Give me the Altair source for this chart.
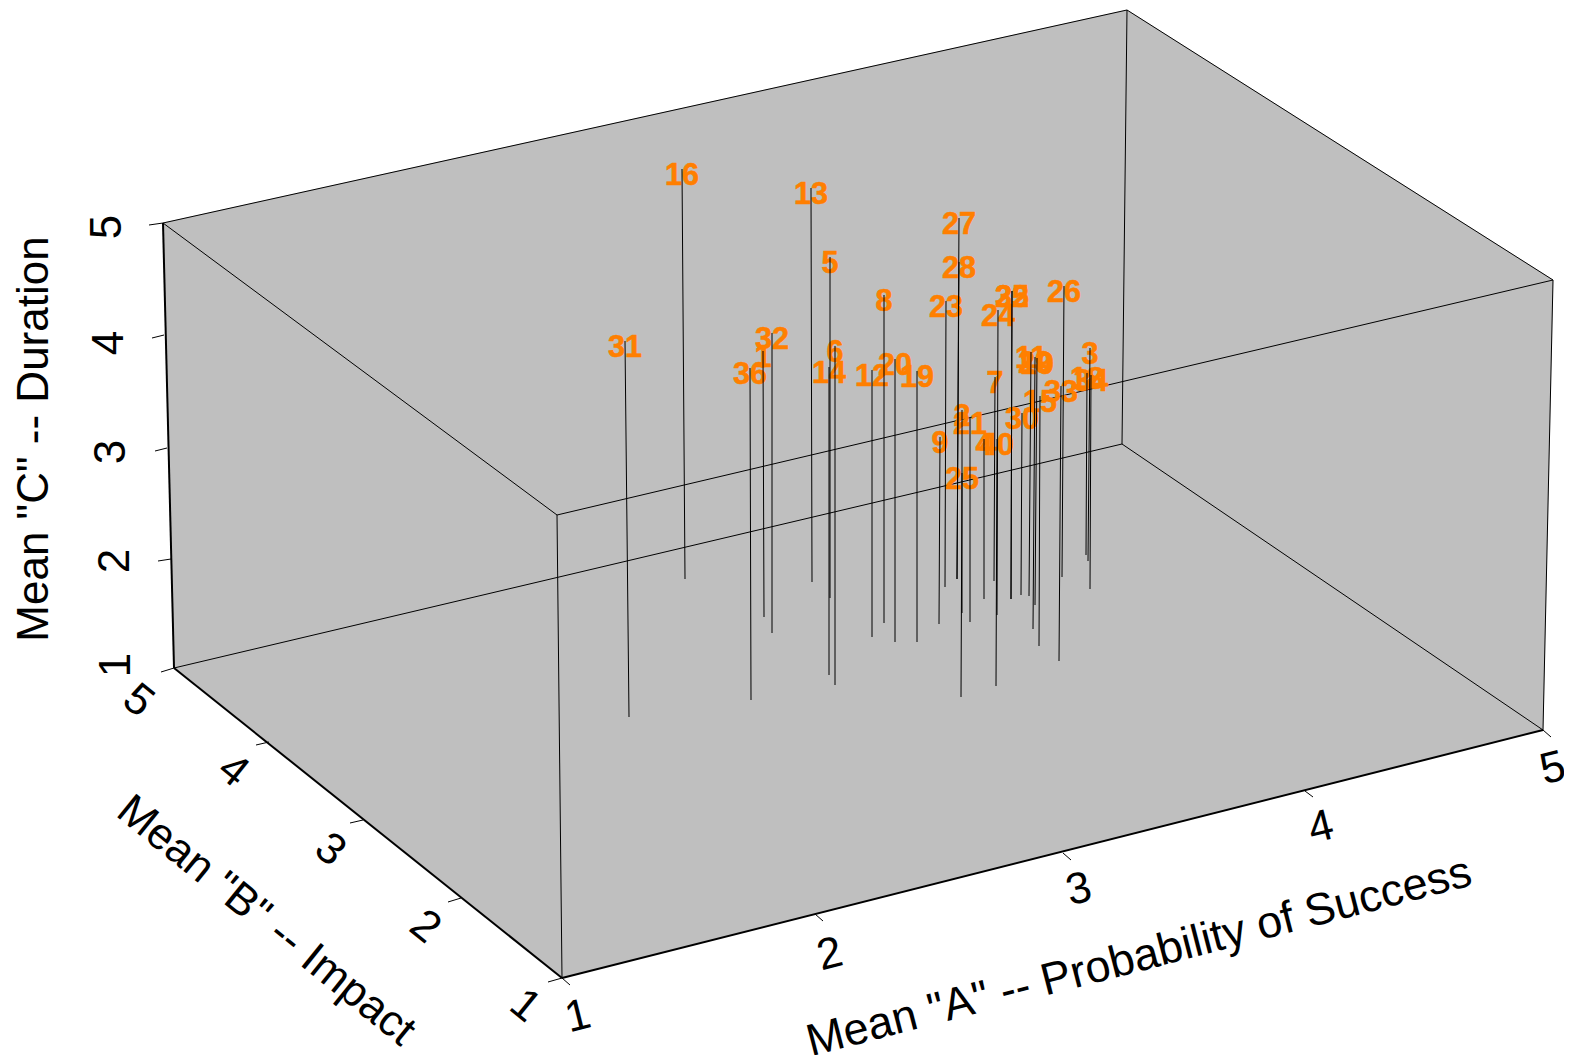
import altair as alt
import pandas as pd

# Projection-plane readings of the picture (x right, y down)
labels = ["1","2","3","4","5","6","7","8","9","10","11","12","13","14","15","16","18","19","20","21","22","23","24","25","26","27","28","29","30","31","32","33","34","35","36","40"]
top_x  = [763,962,1090,984,830,835,995,884,940,1037,1031,872,811,829,1040,682,1087,917,895,970,1012,946,998,962,1064,959,959,1035,1022,625,772,1061,1091,1012,750,997]
top_y  = [351,410,348,439,257,346,377,295,437,358,352,370,188,367,396,169,373,371,359,418,291,301,310,473,286,218,262,357,413,341,333,386,375,291,368,439]
base_x = [764,962,1088,984,830,835,994,884,939,1035,1029,872,812,829,1039,685,1086,917,895,970,1011,945,997,961,1062,957,957,1033,1021,629,772,1059,1090,1011,751,996]
base_y = [617,613,561,599,598,685,581,623,624,605,596,637,582,675,646,579,555,642,642,622,599,587,615,697,577,579,579,629,595,717,633,661,589,599,700,686]

wall_x = [163,1127,1553,1543,562,174,163]
wall_y = [223,10,280,730,978,668,223]

thin_x1 = [163,1127,1553,163,557,557,1127,1122,1122]
thin_y1 = [223,10,280,223,515,515,10,444,444]
thin_x2 = [1127,1553,1543,557,1553,562,1122,174,1543]
thin_y2 = [10,280,730,515,280,978,444,668,730]

thick_x1 = [174,562,163]
thick_y1 = [668,978,223]
thick_x2 = [562,1543,174]
thick_y2 = [978,730,668]

tick_x1 = [149,152,155,158,161, 562,815,1063,1305,1543, 548,448,350,256]
tick_y1 = [225,338,451,561,672, 978,914,853,791,730, 982,902,823,745]
tick_x2 = [163,164,167,171,174, 570,823,1071,1313,1551, 562,461,363,269]
tick_y2 = [223,335,448,559,668, 985,921,860,797,737, 978,898,820,742]

tick_text = ["1","2","3","4","5"]
c_tick_x = [117,116,112,110,108]
c_tick_y = [665,561,452,343,227]
a_tick_x = [578,830,1079,1321,1553]
a_tick_y = [1017,955,890,828,769]
b_tick_x = [525,425,330,233,138]
b_tick_y = [1006,927,850,771,701]

X = alt.Scale(domain=[8, 1564], range=[0, 1556])
Y = alt.Scale(domain=[8, 1055], range=[0, 1047])
FONT = "Liberation Sans"

def xe(f): return alt.X(f, type="quantitative", scale=X, axis=None)
def ye(f): return alt.Y(f, type="quantitative", scale=Y, axis=None)

stems = pd.DataFrame(dict(label=labels, tx=top_x, ty=top_y, bx=base_x, by=base_y))
stems["ly"] = stems["ty"] + 7

wall = alt.Chart(pd.DataFrame(dict(x=wall_x, y=wall_y, o=range(len(wall_x))))).mark_line(
    fill="#BFBFBF", stroke="#BFBFBF", strokeWidth=0.5
).encode(x=xe("x"), y=ye("y"), order="o:Q")

def segs(x1, y1, x2, y2, w):
    d = pd.DataFrame(dict(x=x1, y=y1, x2=x2, y2=y2))
    return alt.Chart(d).mark_rule(color="black", strokeWidth=w).encode(
        x=xe("x"), y=ye("y"), x2="x2:Q", y2="y2:Q")

def texts(xs, ys, txt, angle, size=44, **kw):
    d = pd.DataFrame(dict(x=xs, y=ys, t=txt))
    return alt.Chart(d).mark_text(font=FONT, fontSize=size, angle=angle, align="center",
                                  baseline="middle", color="black", **kw).encode(
        x=xe("x"), y=ye("y"), text="t:N")

thin = segs(thin_x1, thin_y1, thin_x2, thin_y2, 1)
thick = segs(thick_x1, thick_y1, thick_x2, thick_y2, 2)
ticks = segs(tick_x1, tick_y1, tick_x2, tick_y2, 1)

point_labels = alt.Chart(stems).mark_text(
    font=FONT, fontSize=30.5, fontWeight="bold", color="#FF7F00", stroke="#FF7F00", strokeWidth=0.6,
    align="center", baseline="middle"
).encode(x=xe("tx"), y=ye("ly"), text="label:N")

stem_rules = alt.Chart(stems).mark_rule(color="black", strokeWidth=1).encode(
    x=xe("tx"), y=ye("ty"), x2="bx:Q", y2="by:Q")

chart = alt.layer(
    wall, thin, thick, ticks, point_labels, stem_rules,
    texts(c_tick_x, c_tick_y, tick_text, 270),
    texts(a_tick_x, a_tick_y, tick_text, 346),
    texts(b_tick_x, b_tick_y, tick_text, 39),
    texts([35], [439], ['Mean "C" -- Duration'], 270),
    texts([1139], [957], ['Mean "A" -- Probability of Success'], 345.5, size=45),
    texts([266], [921], ['Mean "B" -- Impact'], 39),
).properties(width=1556, height=1047, padding=0, background="white",
             autosize=alt.AutoSizeParams(type="none")
).configure_view(stroke="transparent", strokeWidth=0)

chart.save("out.html", embed_options={"renderer": "svg", "actions": False})
